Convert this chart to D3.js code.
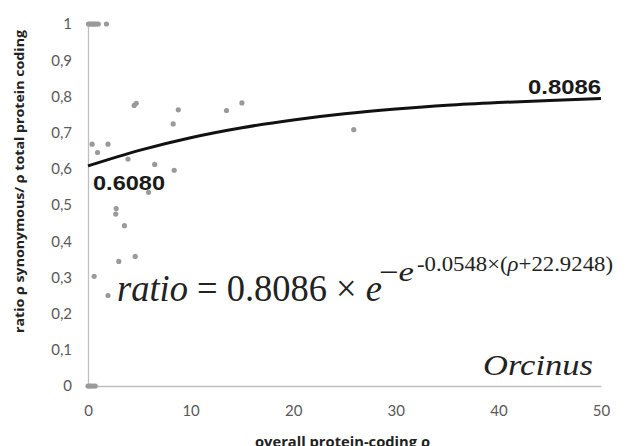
<!DOCTYPE html>
<html>
<head>
<meta charset="utf-8">
<script src="https://cdn.jsdelivr.net/npm/d3@7"></script>
<style>
  body { margin: 0; background: #fff; }
  svg { display: block; }
</style>
</head>
<body>
<svg id="chart"></svg>
<script>
// scatter points (overall rho, ratio)
var pointX = [0.05, 0.2, 0.35, 0.5, 0.65, 0.8, 1.0, 1.8,
              0.4, 1.95, 0.93, 3.9, 6.5, 8.4, 5.9, 2.75, 2.7, 3.55, 4.6, 3.0, 0.6, 1.95,
              4.5, 4.7, 8.8, 8.3, 13.5, 15.0, 25.9,
              0.0, 0.15, 0.3, 0.5, 0.7];
var pointY = [1, 1, 1, 1, 1, 1, 1, 1,
              0.668, 0.668, 0.645, 0.627, 0.612, 0.596, 0.535, 0.490, 0.475, 0.443, 0.358, 0.344, 0.303, 0.250,
              0.775, 0.781, 0.763, 0.724, 0.761, 0.782, 0.708,
              0, 0, 0, 0, 0];

// fitted curve
var curveX = [0, 5, 10, 15, 20, 25, 30, 35, 40, 45, 50];
var curveY = [0.608, 0.651, 0.686, 0.7135, 0.735, 0.752, 0.765, 0.7755, 0.783, 0.789, 0.794];

var xTicks = [0, 10, 20, 30, 40, 50];
var yTicks = [0, 0.1, 0.2, 0.3, 0.4, 0.5, 0.6, 0.7, 0.8, 0.9, 1];

var svgWidth = 634, svgHeight = 446;
var margin = { top: 24, right: 33, bottom: 60, left: 88 };
var width = svgWidth - margin.left - margin.right;
var height = svgHeight - margin.top - margin.bottom;

var svg = d3.select('#chart')
    .attr("width", svgWidth)
    .attr("height", svgHeight);

var g = svg.append("g")
    .attr("transform", "translate(" + margin.left + "," + margin.top + ")");

var x = d3.scaleLinear()
    .domain([0, 50])
    .range([0, width]);

var y = d3.scaleLinear()
    .domain([0, 1])
    .range([height, 0]);

var tickFont = "Lato, 'Open Sans', sans-serif";

// x axis
var xAxis = g.append("g")
    .attr("transform", "translate(0," + height + ")")
    .call(d3.axisBottom(x).tickValues(xTicks).tickSize(0).tickPadding(19));
xAxis.select(".domain").attr("stroke", "#bfbfbf").attr("stroke-width", 1.3);
xAxis.selectAll("text")
    .attr("fill", "#595959")
    .style("font-family", tickFont)
    .style("font-size", "15px");

// y axis
var yAxis = g.append("g")
    .call(d3.axisLeft(y).tickValues(yTicks).tickSize(0).tickPadding(16)
        .tickFormat(function(d) { return String(d).replace(".", ","); }));
yAxis.select(".domain").attr("stroke", "#bfbfbf").attr("stroke-width", 1.3);
yAxis.selectAll("text")
    .attr("fill", "#595959")
    .style("font-family", tickFont)
    .style("font-size", "15px");

// points
var pts = pointX.map(function(v, i) { return { x: v, y: pointY[i] }; });
g.selectAll("circle.pt")
    .data(pts)
    .enter().append("circle")
    .attr("class", "pt")
    .attr("cx", function(d) { return x(d.x); })
    .attr("cy", function(d) { return y(d.y); })
    .attr("r", 2.6)
    .attr("fill", "#9a9a9a");

// trend line
var line = d3.line()
    .x(function(d, i) { return x(curveX[i]); })
    .y(function(d) { return y(d); })
    .curve(d3.curveMonotoneX);

g.append("path")
    .datum(curveY)
    .attr("fill", "none")
    .attr("stroke", "#111")
    .attr("stroke-width", 3)
    .attr("d", line);

// end value labels
var boldFont = "'Liberation Sans', Arial, sans-serif";
svg.append("text")
    .attr("x", 93).attr("y", 190)
    .attr("font-family", boldFont).attr("font-weight", "bold").attr("font-size", 21)
    .attr("fill", "#1a1a1a")
    .attr("textLength", 72).attr("lengthAdjust", "spacingAndGlyphs")
    .text("0.6080");
svg.append("text")
    .attr("x", 528).attr("y", 94)
    .attr("font-family", boldFont).attr("font-weight", "bold").attr("font-size", 21)
    .attr("fill", "#1a1a1a")
    .attr("textLength", 73).attr("lengthAdjust", "spacingAndGlyphs")
    .text("0.8086");

// equation
var serif = "'Liberation Serif', 'Times New Roman', serif";
var eq = svg.append("text")
    .attr("x", 117).attr("y", 301)
    .attr("font-family", serif).attr("font-size", 38).attr("fill", "#222")
    .attr("textLength", 265).attr("lengthAdjust", "spacingAndGlyphs");
eq.append("tspan").attr("font-style", "italic").text("ratio");
eq.append("tspan").text(" = 0.8086 × ");
eq.append("tspan").attr("font-style", "italic").text("e");

var sup1 = svg.append("text")
    .attr("x", 379).attr("y", 281)
    .attr("font-family", serif).attr("font-size", 27).attr("fill", "#222")
    .attr("textLength", 35).attr("lengthAdjust", "spacingAndGlyphs");
sup1.append("tspan").text("−");
sup1.append("tspan").attr("font-style", "italic").text("e");

var sup2 = svg.append("text")
    .attr("x", 417).attr("y", 271)
    .attr("font-family", serif).attr("font-size", 22).attr("fill", "#222")
    .attr("textLength", 196).attr("lengthAdjust", "spacingAndGlyphs");
sup2.append("tspan").text("-0.0548×(");
sup2.append("tspan").attr("font-style", "italic").text("ρ");
sup2.append("tspan").text("+22.9248)");

// species name
svg.append("text")
    .attr("x", 483).attr("y", 375)
    .attr("font-family", serif).attr("font-style", "italic").attr("font-size", 29)
    .attr("fill", "#222")
    .attr("textLength", 110).attr("lengthAdjust", "spacingAndGlyphs")
    .text("Orcinus");

// axis titles
var titleFont = "'Open Sans', Lato, sans-serif";
svg.append("text")
    .attr("x", 255).attr("y", 447)
    .attr("font-family", titleFont).attr("font-weight", "bold").attr("font-size", 14)
    .attr("fill", "#222")
    .attr("textLength", 175).attr("lengthAdjust", "spacingAndGlyphs")
    .text("overall protein-coding ρ");

svg.append("text")
    .attr("transform", "translate(24,333) rotate(-90)")
    .attr("font-family", titleFont).attr("font-weight", "bold").attr("font-size", 13)
    .attr("fill", "#222")
    .attr("textLength", 303).attr("lengthAdjust", "spacingAndGlyphs")
    .text("ratio ρ synonymous/ ρ total protein coding");
</script>
</body>
</html>
